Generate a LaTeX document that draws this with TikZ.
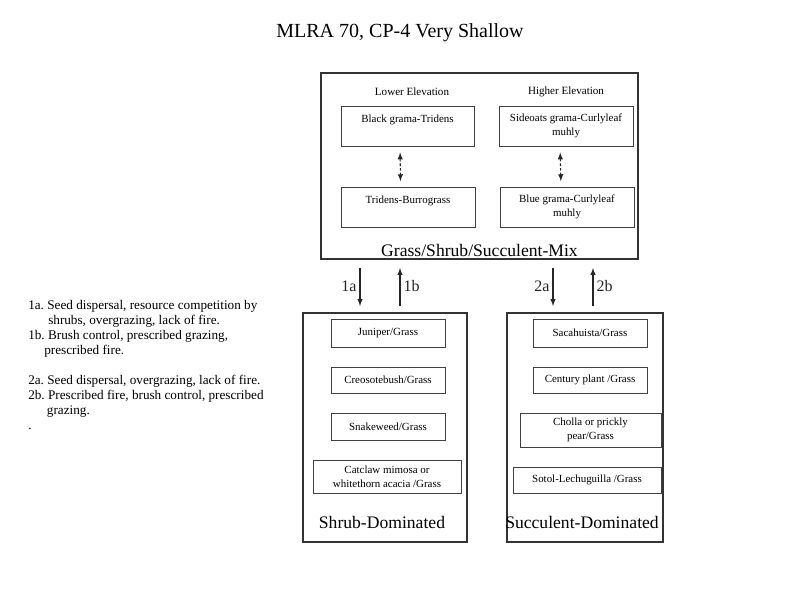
\documentclass[tikz,border=0pt]{standalone}
\usepackage{fontspec}
\setmainfont{Liberation Serif}
\usepackage{tikz}
\usetikzlibrary{arrows}

\newcommand\pxu{0.75pt}
\tikzset{
  outbox/.style={draw=black!80, line width=1.4pt, inner sep=0pt},
  inbox/.style={draw=black!75, line width=0.7pt, inner sep=0pt, align=center, font=\fontsize{8.2}{10.5}\selectfont},
  flow/.style={black!85, line width=0.8pt, -latex},
  swap/.style={black!85, line width=0.8pt, dash pattern=on 2pt off 1.5pt, latex-latex},
  tag/.style={font=\fontsize{12}{14}\selectfont},
  heading/.style={font=\fontsize{13.2}{15}\selectfont}
}

\begin{document}
\begin{tikzpicture}[x=0.75pt, y=-0.75pt]
\useasboundingbox (0,0) rectangle (800,600);

\node [font=\fontsize{15}{17}\selectfont] (title) at (400,33) {MLRA 70, CP-4 Very Shallow};

% mixed state
\node [outbox, minimum width=317*\pxu, minimum height=186*\pxu] (mix) at (479.5,166) {};
\node [font=\fontsize{8.3}{9}\selectfont] (low) at (412,92) {Lower Elevation};
\node [font=\fontsize{8.3}{9}\selectfont] (high) at (566,92) {Higher Elevation};
\node [inbox, minimum width=133*\pxu, minimum height=40*\pxu] (blk) at (407.5,126) {Black grama-Tridens\\ \mbox{}};
\node [inbox, minimum width=134*\pxu, minimum height=40*\pxu] (side) at (566,126) {Sideoats grama-Curlyleaf\\muhly};
\node [inbox, minimum width=134*\pxu, minimum height=40*\pxu] (tri) at (408,207) {Tridens-Burrograss\\ \mbox{}};
\node [inbox, minimum width=134*\pxu, minimum height=40*\pxu] (blue) at (567,207) {Blue grama-Curlyleaf\\muhly};
\node [heading, anchor=south] (mixname) at ([yshift=-1pt]mix.south) {Grass/Shrub/Succulent-Mix};

\draw [swap, shorten <=4.5pt, shorten >=4pt] ([xshift=-5.6pt]blk.south) -- ([xshift=-5.6pt]tri.north);
\draw [swap, shorten <=4.5pt, shorten >=4pt] ([xshift=-4.5pt]side.south) -- ([xshift=-4.5pt]blue.north);

% shrub state
\node [outbox, minimum width=164*\pxu, minimum height=229*\pxu] (shrub) at (385,427.5) {};
\node [inbox, minimum width=114*\pxu, minimum height=28*\pxu] (jun) at (388,333) {Juniper/Grass};
\node [inbox, minimum width=114*\pxu, minimum height=26*\pxu] (creo) at (388,380) {Creosotebush/Grass};
\node [inbox, minimum width=114*\pxu, minimum height=27*\pxu] (snake) at (388,426.5) {Snakeweed/Grass};
\node [inbox, minimum width=148*\pxu, minimum height=33*\pxu] (cat) at (387,476.5) {Catclaw mimosa or\\whitethorn acacia /Grass};
\node [heading] (shrubname) at (382,522) {Shrub-Dominated};

% succulent state
\node [outbox, minimum width=156*\pxu, minimum height=229*\pxu] (succ) at (585,427.5) {};
\node [inbox, minimum width=114*\pxu, minimum height=28*\pxu] (saca) at (590,333) {Sacahuista/Grass};
\node [inbox, minimum width=114*\pxu, minimum height=26*\pxu] (cent) at (590,380) {Century plant /Grass};
\node [inbox, minimum width=141*\pxu, minimum height=34*\pxu] (cho) at (590.5,430) {Cholla or prickly\\pear/Grass};
\node [inbox, minimum width=148*\pxu, minimum height=26*\pxu] (sot) at (587,480) {Sotol-Lechuguilla /Grass};
\node [heading] (succname) at (582,522) {Succulent-Dominated};

% transitions
\coordinate (x1a) at (360,0);
\coordinate (x1b) at (400,0);
\coordinate (x2a) at (553,0);
\coordinate (x2b) at (593,0);
\draw [flow, shorten <=6pt, shorten >=4.5pt] (mix.south -| x1a) -- (shrub.north -| x1a) node [tag, midway, left=-1pt] {1a};
\draw [flow, shorten <=4.5pt, shorten >=6pt] (shrub.north -| x1b) -- (mix.south -| x1b) node [tag, midway, right=-1pt] {1b};
\draw [flow, shorten <=6pt, shorten >=4.5pt] (mix.south -| x2a) -- (succ.north -| x2a) node [tag, midway, left=-1pt] {2a};
\draw [flow, shorten <=4.5pt, shorten >=6pt] (succ.north -| x2b) -- (mix.south -| x2b) node [tag, midway, right=-1pt] {2b};

% legend
\node [anchor=north west, align=left, inner sep=0pt, font=\fontsize{9.9}{11.25}\selectfont\frenchspacing] (legend) at (28,300) {%
1a. Seed dispersal, resource competition by\\
\hspace*{15pt}shrubs, overgrazing, lack of fire.\\
1b. Brush control, prescribed grazing,\\
\hspace*{12pt}prescribed fire.\\[11.25pt]
2a. Seed dispersal, overgrazing, lack of fire.\\
2b. Prescribed fire, brush control, prescribed\\
\hspace*{14pt}grazing.\\
.};
\end{tikzpicture}
\end{document}
